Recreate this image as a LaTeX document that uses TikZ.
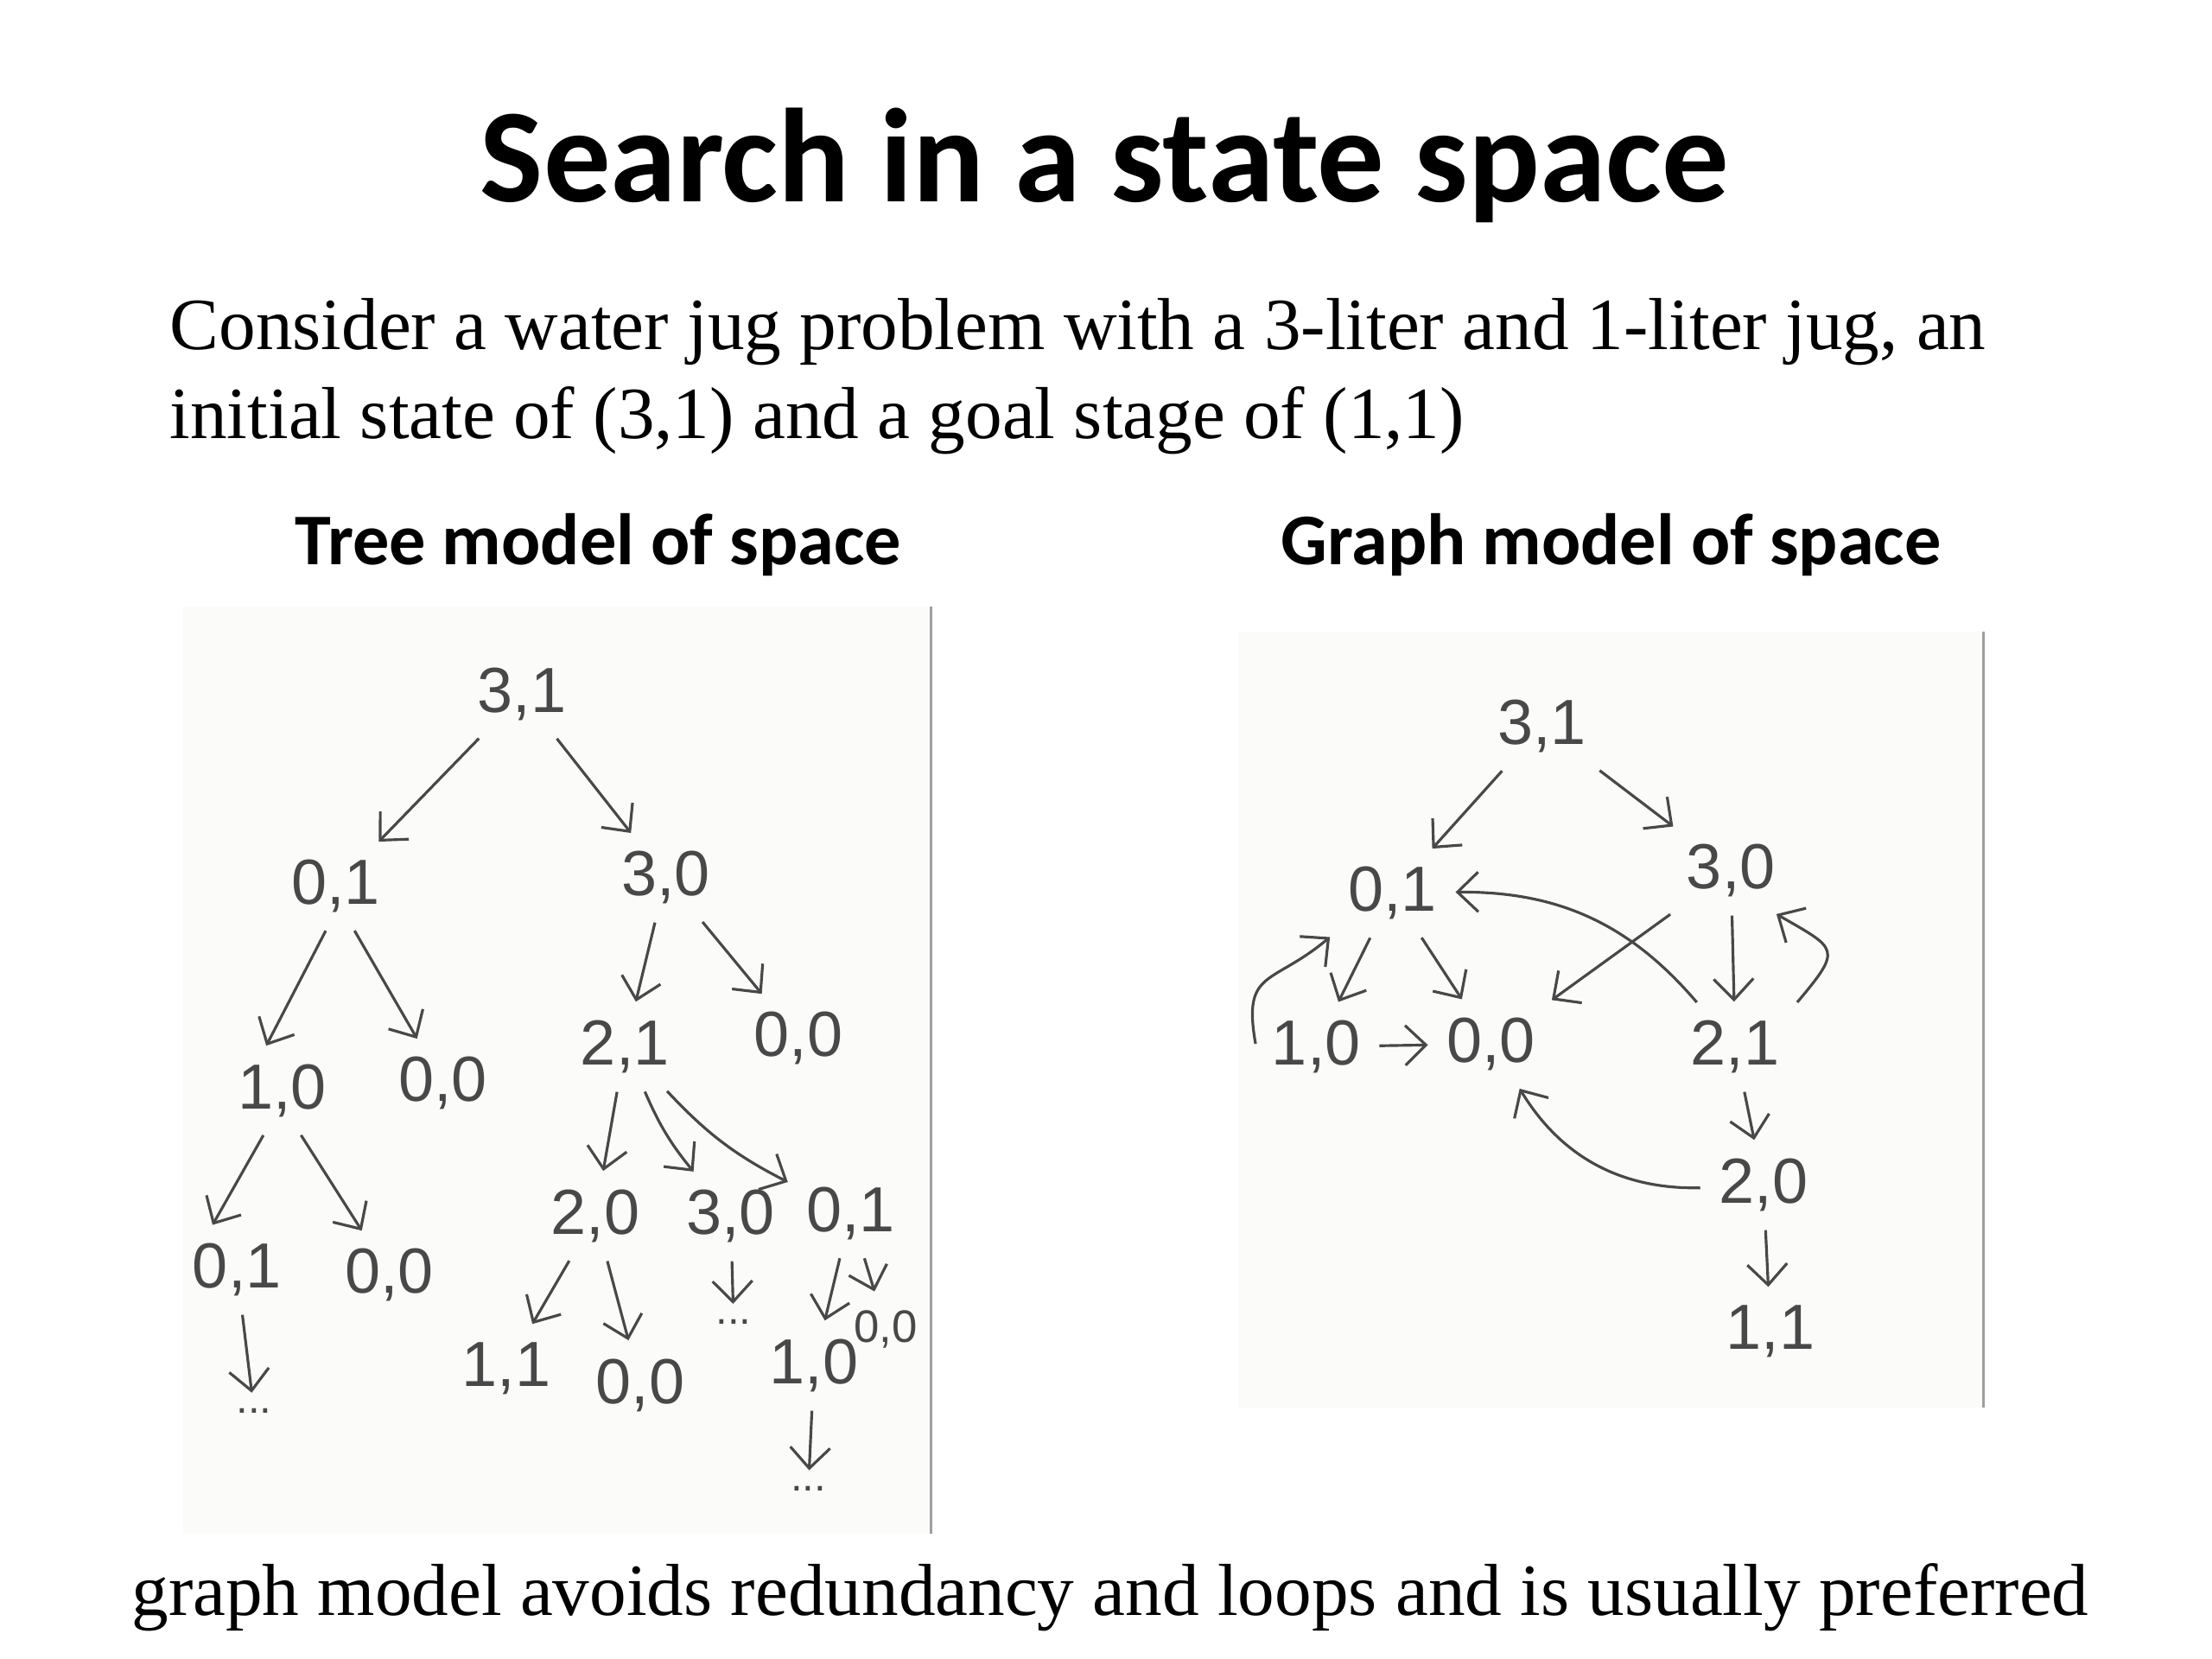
\documentclass[tikz,border=0pt]{standalone}
\usepackage{fontspec}
\setmainfont{Liberation Serif}
\newfontfamily\headfont{Carlito}
\newfontfamily\handfont{Liberation Sans}
\usetikzlibrary{arrows.meta}
\definecolor{ink}{RGB}{72,72,72}
\definecolor{paper}{RGB}{251,251,249}

\begin{document}
\begin{tikzpicture}[
  x=0.16327mm, y=-0.16327mm,
  every node/.style={inner sep=0pt},
  heading/.style={font=\headfont\bfseries\fontsize{24}{28}\selectfont, anchor=base},
  prose/.style={font=\fontsize{24.25}{29.3}\selectfont, anchor=base west, align=left},
  jug/.style={font=\handfont\fontsize{21}{23}\selectfont, text=ink, inner sep=5pt},
  more/.style={font=\handfont\fontsize{14}{14}\selectfont, text=ink, inner sep=4pt},
  sheet/.style={fill=paper, draw=none},
  edge/.style={draw=gray!75, line width=0.8pt},
  line/.style={-{Straight Barb[length=2.4mm, width=4.6mm]}, draw=ink, line width=0.9pt, shorten >=1pt, shorten <=1pt}
]
\useasboundingbox (0,0) rectangle (1568,1176);

% titles and text
\node[font=\headfont\bfseries\fontsize{44}{50}\selectfont, anchor=base] (title) at (783,143) {Search in a state space};
\node[prose] (intro) at (120,311) {Consider a water jug problem with a 3-liter and 1-liter jug, an\\initial state of (3,1) and a goal stage of (1,1)};
\node[heading] (treehead) at (424,400) {Tree model of space};
\node[heading] (graphhead) at (1142,400) {Graph model of space};
\node[font=\fontsize{24.25}{29.3}\selectfont, anchor=base] (note) at (787,1145) {graph model avoids redundancy and loops and is usually preferred};

% the two scanned sheets
\fill[sheet] (130,430) rectangle (660,1087);
\draw[edge] (660,430) -- (660,1087);
\fill[sheet] (878,448) rectangle (1408,998);
\draw[edge] (1406,448) -- (1406,998);

% tree model
\node[jug] (t31) at (370,492) {3,1};
\node[jug] (t01) at (238,628) {0,1};
\node[jug] (t30) at (472,622) {3,0};
\node[jug] (t10) at (200,773) {1,0};
\node[jug] (t00a) at (314,768) {0,0};
\node[jug] (t21) at (443,742) {2,1};
\node[jug] (t00b) at (566,736) {0,0};
\node[jug] (t01c) at (168,900) {0,1};
\node[jug] (t00c) at (276,904) {0,0};
\node[jug] (t20) at (422,862) {2,0};
\node[jug] (t30d) at (518,862) {3,0};
\node[jug] (t01d) at (603,860) {0,1};
\node[jug] (t11) at (359,970) {1,1};
\node[jug] (t00e) at (454,982) {0,0};
\node[jug] (t10f) at (577,968) {1,0};
\node[jug, font=\handfont\fontsize{15}{15}\selectfont] (t00f) at (628,942) {0,0};
\node[more] (tm1) at (180,1000) {...};
\node[more] (tm2) at (520,937) {...};
\node[more] (tm3) at (573,1055) {...};

\draw[line] (t31) -- (t01);
\draw[line] (t31) -- (t30);
\draw[line] ([xshift=-1mm]t01.south) -- ([xshift=-2mm]t10.north);
\draw[line] ([xshift=2mm]t01.south) -- (t00a);
\draw[line] (t30) -- (t21);
\draw[line] (t30) -- (t00b);
\draw[line] ([xshift=-2mm]t10.south) -- ([xshift=-3mm]t01c.north);
\draw[line] ([xshift=2mm]t10.south) -- ([xshift=-3mm]t00c.north);
\draw[line] (t21) -- (t20);
\draw[line] (t21) to[bend right=8] (t30d);
\draw[line] (t21) to[bend right=10] (t01d);
\draw[line] (t01c) -- (tm1);
\draw[line] (t20) -- (t11);
\draw[line] (t20) -- (t00e);
\draw[line] (t30d) -- (tm2);
\draw[line] (t01d) -- (t10f);
\draw[line] (t01d) -- (t00f);
\draw[line] (t10f) -- (tm3);

% graph model
\node[jug] (g31) at (1093,515) {3,1};
\node[jug] (g01) at (987,633) {0,1};
\node[jug] (g30) at (1227,617) {3,0};
\node[jug] (g10) at (933,742) {1,0};
\node[jug] (g00) at (1057,740) {0,0};
\node[jug] (g21) at (1230,742) {2,1};
\node[jug] (g20) at (1250,840) {2,0};
\node[jug] (g11) at (1255,944) {1,1};

\draw[line] (g31) -- (g01);
\draw[line] (g31) -- (g30);
\draw[line] (g01) -- (g10);
\draw[line] (g01) -- (g00);
\draw[line] (g10) -- (g00);
\draw[line] (g30) -- (g00);
\draw[line] (g30) -- (g21);
\draw[line] (g21) to[bend right=25] (g01);
\draw[line] (g21.north east) to[out=50, in=-30, looseness=2] ([xshift=-2mm]g30.south east);
\draw[line] (g10.west) to[out=100, in=220, looseness=1.5] (g01.south west);
\draw[line] (g21) -- (g20);
\draw[line] (g20) to[bend left=30] (g00);
\draw[line] (g20) -- (g11);
\end{tikzpicture}
\end{document}
